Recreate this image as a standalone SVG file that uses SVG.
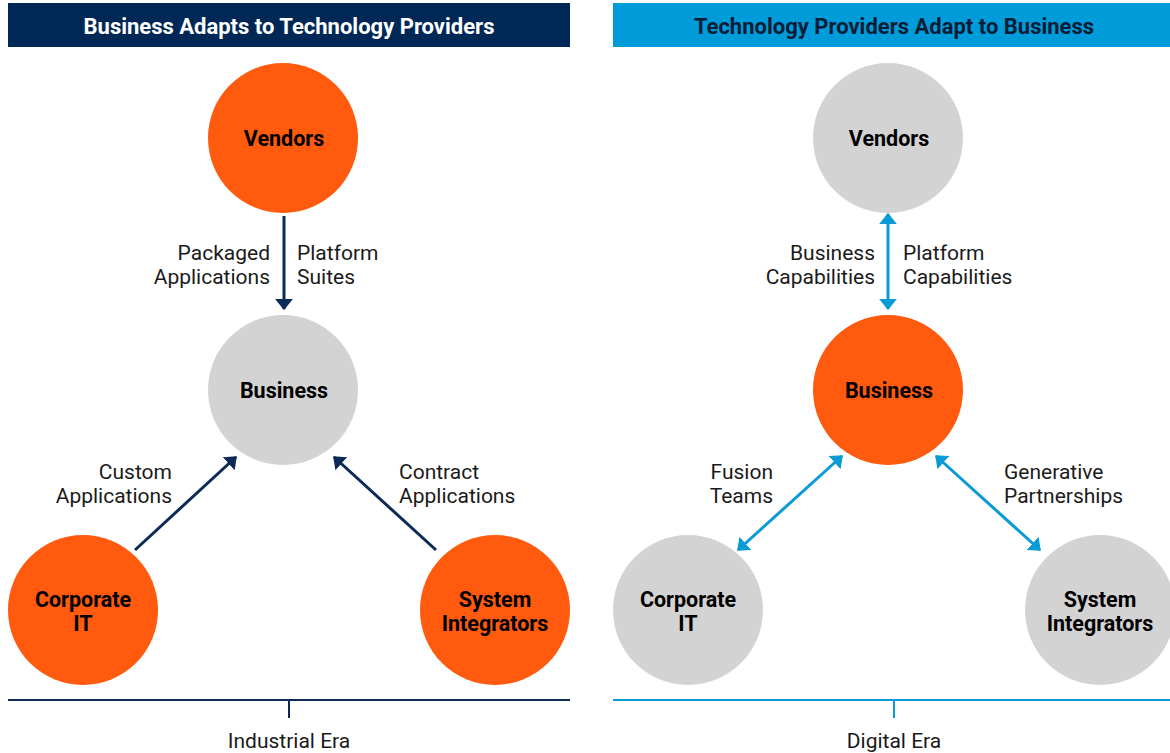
<svg xmlns="http://www.w3.org/2000/svg" width="1170" height="753" viewBox="0 0 1170 753">
<style>
.hdr{font-family:Roboto,"Liberation Sans",sans-serif;font-weight:700;font-size:22px;text-anchor:middle}
.node{font-family:Roboto,"Liberation Sans",sans-serif;font-weight:700;font-size:21.5px;text-anchor:middle;fill:#000}
.lbl{font-family:Roboto,"Liberation Sans",sans-serif;font-weight:400;font-size:21px;fill:#1a1a1a}
.r{text-anchor:end}
.era{font-family:Roboto,"Liberation Sans",sans-serif;font-size:21px;text-anchor:middle;fill:#1a1a1a}
.orange{fill:#ff5a0e}
.gray{fill:#d3d3d3}
.navy{stroke:#0c2a57;stroke-width:3;fill:none}
.blue{stroke:#0a9ad6;stroke-width:3;fill:none}
</style>
<defs>
<marker id="an" viewBox="0 0 10 16" refX="9" refY="8" markerWidth="3.7" markerHeight="5.9" orient="auto-start-reverse" markerUnits="strokeWidth">
<path d="M0,0 L10,8 L0,16 z" fill="#0c2a57"/>
</marker>
<marker id="ab" viewBox="0 0 10 16" refX="9" refY="8" markerWidth="3.7" markerHeight="5.9" orient="auto-start-reverse" markerUnits="strokeWidth">
<path d="M0,0 L10,8 L0,16 z" fill="#0a9ad6"/>
</marker>
</defs>
<rect width="1170" height="753" fill="#fff"/>
<g id="header-left">
<rect x="8" y="3" width="562" height="44" fill="#002856"/>
<text class="hdr" x="289" y="34" fill="#fff">Business Adapts to Technology Providers</text>
</g>
<g id="header-right">
<rect x="613" y="3" width="557" height="44" fill="#009bd9"/>
<text class="hdr" x="894" y="34" fill="#0b1c36">Technology Providers Adapt to Business</text>
</g>
<g id="connectors">
<line class="navy" x1="284" y1="216" x2="284" y2="309" marker-end="url(#an)"/>
<line class="navy" x1="135" y1="550" x2="236" y2="457" marker-end="url(#an)"/>
<line class="navy" x1="436" y1="550" x2="334" y2="457" marker-end="url(#an)"/>
<line class="blue" x1="888" y1="214" x2="888" y2="309" marker-start="url(#ab)" marker-end="url(#ab)"/>
<line class="blue" x1="738" y1="550" x2="842" y2="456" marker-start="url(#ab)" marker-end="url(#ab)"/>
<line class="blue" x1="1040" y1="550" x2="936" y2="456" marker-start="url(#ab)" marker-end="url(#ab)"/>
</g>
<g id="labels">
<text class="lbl r" x="270" y="260">Packaged</text>
<text class="lbl r" x="270" y="284">Applications</text>
<text class="lbl" x="297" y="260">Platform</text>
<text class="lbl" x="297" y="284">Suites</text>
<text class="lbl r" x="172" y="479">Custom</text>
<text class="lbl r" x="172" y="503">Applications</text>
<text class="lbl" x="399" y="479">Contract</text>
<text class="lbl" x="399" y="503">Applications</text>
<text class="lbl r" x="875" y="260">Business</text>
<text class="lbl r" x="875" y="284">Capabilities</text>
<text class="lbl" x="903" y="260">Platform</text>
<text class="lbl" x="903" y="284">Capabilities</text>
<text class="lbl r" x="773" y="479">Fusion</text>
<text class="lbl r" x="773" y="503">Teams</text>
<text class="lbl" x="1004" y="479">Generative</text>
<text class="lbl" x="1004" y="503">Partnerships</text>
</g>
<g id="left-vendors"><circle class="orange" cx="283" cy="138" r="75"/><text class="node" x="284" y="146">Vendors</text></g>
<g id="left-business"><circle class="gray" cx="283" cy="390" r="75"/><text class="node" x="284" y="398">Business</text></g>
<g id="left-corporate-it"><circle class="orange" cx="83" cy="610" r="75"/><text class="node" x="83" y="607">Corporate</text><text class="node" x="83" y="631">IT</text></g>
<g id="left-system-integrators"><circle class="orange" cx="495" cy="610" r="75"/><text class="node" x="495" y="607">System</text><text class="node" x="495" y="631">Integrators</text></g>
<g id="right-vendors"><circle class="gray" cx="888" cy="138" r="75"/><text class="node" x="889" y="146">Vendors</text></g>
<g id="right-business"><circle class="orange" cx="888" cy="390" r="75"/><text class="node" x="889" y="398">Business</text></g>
<g id="right-corporate-it"><circle class="gray" cx="688" cy="610" r="75"/><text class="node" x="688" y="607">Corporate</text><text class="node" x="688" y="631">IT</text></g>
<g id="right-system-integrators"><circle class="gray" cx="1100" cy="610" r="75"/><text class="node" x="1100" y="607">System</text><text class="node" x="1100" y="631">Integrators</text></g>
<g id="era-left">
<line x1="8" y1="700" x2="570" y2="700" stroke="#0c2a57" stroke-width="2"/>
<line x1="289" y1="700" x2="289" y2="718" stroke="#0c2a57" stroke-width="2"/>
<text class="era" x="289" y="748">Industrial Era</text>
</g>
<g id="era-right">
<line x1="613" y1="700" x2="1170" y2="700" stroke="#0a9ad6" stroke-width="2"/>
<line x1="894" y1="700" x2="894" y2="718" stroke="#0a9ad6" stroke-width="2"/>
<text class="era" x="894" y="748">Digital Era</text>
</g>
</svg>
